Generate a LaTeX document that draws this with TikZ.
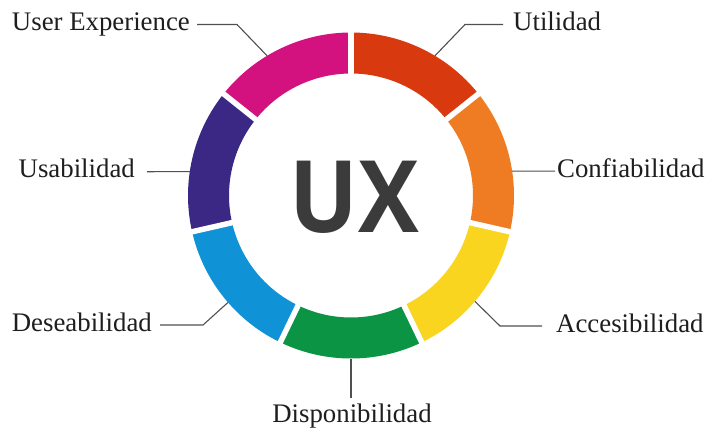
\documentclass[tikz,border=0pt]{standalone}
\usepackage{fontspec}
\setmainfont{Liberation Serif}
\newfontfamily\uxfont{Open Sans}
\usetikzlibrary{calc}
\definecolor{uxred}{HTML}{D8390F}
\definecolor{uxorange}{HTML}{EF7B22}
\definecolor{uxyellow}{HTML}{FAD51F}
\definecolor{uxgreen}{HTML}{0B9444}
\definecolor{uxblue}{HTML}{0F92D6}
\definecolor{uxpurple}{HTML}{3A2884}
\definecolor{uxpink}{HTML}{D3117F}
\definecolor{uxgray}{HTML}{3B3B3B}
\definecolor{labelgray}{HTML}{1E1E1E}
\definecolor{linegray}{HTML}{505050}
\begin{document}
\begin{tikzpicture}[x=1pt,y=1pt,
  lbl/.style={font=\fontsize{26.8}{28}\selectfont, text=labelgray, inner sep=0pt, text height=17pt, text depth=5pt},
  conn/.style={draw=linegray, line width=1.1pt},
  gap/.style={draw=white, line width=5.5pt}]
\fill[white] (0,0) rectangle (706,432);
\useasboundingbox (0,0) rectangle (706,432);
\coordinate (c) at (351,236.5);
\def\Ro{163}
\def\Ri{122}
% ring segments
\foreach \col [count=\i from 0] in {uxred,uxorange,uxyellow,uxgreen,uxblue,uxpurple,uxpink}{
  \pgfmathsetmacro\a{90-\i*360/7}
  \pgfmathsetmacro\b{\a-360/7}
  \fill[\col] ($(c)+(\a:\Ro)$) arc[start angle=\a, end angle=\b, radius=\Ro]
     -- ($(c)+(\b:\Ri)$) arc[start angle=\b, end angle=\a, radius=\Ri] -- cycle;
}
% gaps
\foreach \k in {0,...,6}{
  \pgfmathsetmacro\g{90-\k*360/7}
  \draw[gap] ($(c)+(\g:115)$) -- ($(c)+(\g:170)$);
}
% centre text
\node[font=\uxfont\bfseries\fontsize{100}{100}\selectfont, text=uxgray, anchor=base, inner sep=0pt] (ux) at (354.5,200) {\scalebox{0.91}[1]{UX}};
% ring points
\coordinate (ueR) at ($(c)+(121:\Ro)$);
\coordinate (utR) at ($(c)+(59:\Ro)$);
\coordinate (usR) at ($(c)+(171.6:\Ro)$);
\coordinate (coR) at ($(c)+(8.6:\Ro)$);
\coordinate (deR) at ($(c)+(221:\Ro)$);
\coordinate (acR) at ($(c)+(319.5:\Ro)$);
\coordinate (diR) at ($(c)+(270:\Ro)$);
% labels
\node[lbl, anchor=east] (ue) at (190,407.5) {User Experience};
\node[lbl, anchor=west] (ut) at (513,407.5) {Utilidad};
\node[lbl, anchor=east] (us) at (135,260.3) {Usabilidad};
\node[lbl, anchor=west] (co) at (557,260.9) {Confiabilidad};
\node[lbl, anchor=east] (de) at (152,107) {Deseabilidad};
\node[lbl, anchor=west] (ac) at (556,106) {Accesibilidad};
\node[lbl, anchor=base] (di) at (352,10) {Disponibilidad};
\coordinate (diT) at ([yshift=7pt]di.north);
% connectors
\draw[conn] ([xshift=7pt]ue.east) -- ++(40,0) -- (ueR);
\draw[conn] ([xshift=-10pt]ut.west) -- ++(-38,0) -- (utR);
\draw[conn] ([xshift=12pt]us.east) -- (usR);
\draw[conn] ([xshift=-2pt]co.west) -- (coR);
\draw[conn] ([xshift=8pt]de.east) -- ++(43,0) -- (deR);
\draw[conn] ([xshift=-14pt]ac.west) -- ++(-42,0) -- (acR);
\draw[conn] (diR) -- (diR |- diT);
\end{tikzpicture}
\end{document}
